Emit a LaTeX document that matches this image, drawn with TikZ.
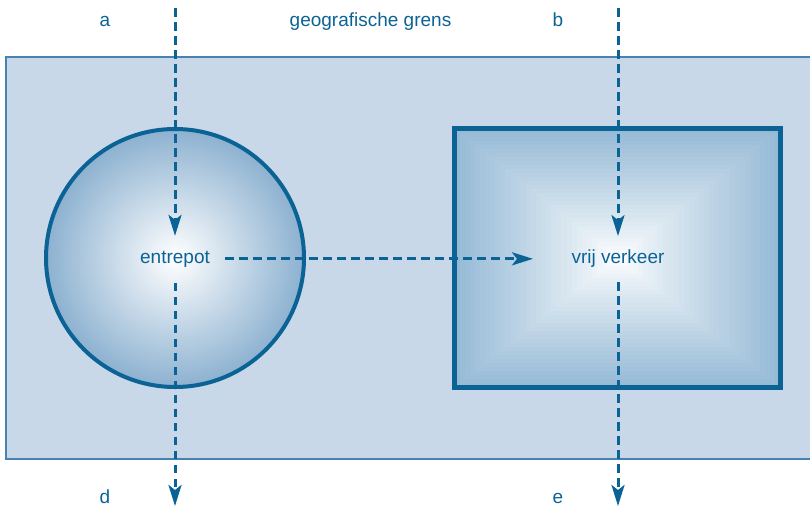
\documentclass[tikz,border=0pt]{standalone}
\usepackage{fontspec}
\setmainfont{Liberation Sans}
\usetikzlibrary{arrows.meta,calc}
\definecolor{dblue}{RGB}{11,99,149}
\definecolor{bgfill}{RGB}{200,216,232}
\definecolor{bgline}{RGB}{72,130,176}
\definecolor{circedge}{RGB}{140,177,208}
\definecolor{rectedge}{RGB}{150,186,214}
\tikzset{
  lbl/.style={anchor=base, text=dblue, font=\fontsize{19}{23}\selectfont, inner sep=0pt},
  flowline/.style={draw=dblue, line width=3pt, dash pattern=on 8.5pt off 5.5pt},
  flow/.style={flowline, -{Stealth[length=21pt,width=13pt,inset=5pt]}},
}
\begin{document}
\begin{tikzpicture}[x=1pt,y=-1pt]
\useasboundingbox (0,0) rectangle (810,507);
% background region
\draw[bgline, fill=bgfill, line width=1.5pt] (6,57) rectangle (814,459);
% rectangle shading (concentric steps)
\coordinate (RC) at (617.5,258);
\foreach \i in {0,...,32}{
  \pgfmathsetmacro\f{1-\i/32}
  \pgfmathtruncatemacro\p{100*\f^0.9}
  \fill[rectedge!\p!white] ($(RC)+(-163*\f,-129.5*\f)$) rectangle ($(RC)+(163*\f,129.5*\f)$);
}
\node[draw=dblue, line width=5pt, minimum width=326pt, minimum height=259pt, inner sep=0pt] (vrijbox) at (RC) {};
% circle
\node[circle, draw=dblue, line width=4pt, inner color=white, outer color=circedge, minimum size=258pt, inner sep=0pt] (entrepotbox) at (175,258) {};
% labels
\node[lbl] (la) at (105,26) {a};
\node[lbl] (lgeo) at (370.5,26) {geografische grens};
\node[lbl] (lb) at (558,26) {b};
\node[lbl] (ld) at (105,503) {d};
\node[lbl] (le) at (558,503) {e};
\node[lbl] (entrepot) at (175,263) {entrepot};
\node[lbl] (vrij) at (618,263) {vrij verkeer};
% free ends
\coordinate (aTop) at (175,8);
\coordinate (bTop) at (618,8);
\coordinate (dEnd) at (175,506);
\coordinate (eEnd) at (618,506);
% connectors
\draw[flow, shorten >=23pt] (aTop) -- (aTop |- entrepot.center);
\draw[flow, shorten <=24pt] (aTop |- entrepot.center) -- (dEnd);
\draw[flow, shorten <=50pt, shorten >=85pt] (entrepot.center) -- (entrepot.center -| vrij.center);
\draw[flow, shorten >=22pt] (bTop) -- (bTop |- vrij.center);
\draw[flow, shorten <=24pt] (bTop |- vrij.center) -- (eEnd);
\end{tikzpicture}
\end{document}
